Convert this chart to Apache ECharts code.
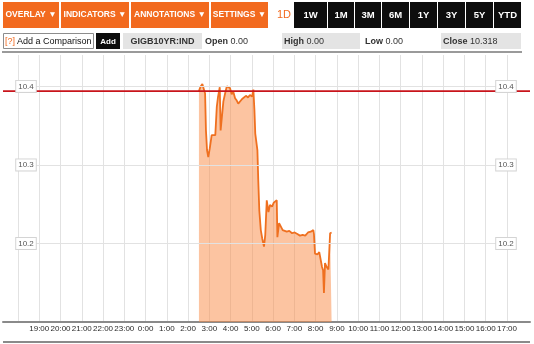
<!DOCTYPE html>
<html>
<head>
<meta charset="utf-8">
<script src="https://cdn.jsdelivr.net/npm/echarts@6/dist/echarts.min.js"></script>
<style>html,body{margin:0;padding:0;background:#fff}#c{width:534px;height:344px}</style>
</head>
<body>
<div id="c"></div>
<script>
// ---- data (hours since 18:00 of the previous day, yield %) ----
const hours = [8.51,8.59,8.67,8.75,8.80,8.84,8.89,8.95,9.02,9.11,9.19,9.28,9.35,9.41,9.49,9.53,9.61,9.66,9.74,9.82,
  9.89,9.97,10.05,10.13,10.21,10.29,10.36,10.44,10.54,10.63,10.72,10.82,10.91,11.01,11.07,11.12,11.16,11.26,11.30,11.35,
  11.42,11.49,11.57,11.63,11.70,11.78,11.85,11.95,12.03,12.10,12.17,12.20,12.28,12.37,12.45,12.54,12.64,12.76,12.89,13.01,
  13.14,13.26,13.39,13.51,13.64,13.77,13.89,13.92,13.97,14.08,14.17,14.24,14.30,14.35,14.39,14.44,14.52,14.60,14.68,14.75];
const yields = [10.394,10.400,10.403,10.402,10.391,10.344,10.319,10.310,10.321,10.338,10.340,10.338,10.374,10.387,10.399,10.344,10.344,10.381,10.391,10.400,
  10.401,10.398,10.390,10.393,10.385,10.382,10.378,10.380,10.384,10.386,10.388,10.386,10.389,10.387,10.396,10.370,10.340,10.319,10.281,10.242,
  10.217,10.206,10.196,10.211,10.255,10.240,10.249,10.247,10.252,10.250,10.255,10.208,10.226,10.225,10.217,10.218,10.215,10.216,10.213,10.214,
  10.212,10.210,10.211,10.210,10.214,10.215,10.217,10.212,10.187,10.186,10.189,10.187,10.170,10.166,10.137,10.175,10.170,10.167,10.213,10.214];
const xLabels = ['18:00','19:00','20:00','21:00','22:00','23:00','0:00','1:00','2:00','3:00','4:00','5:00','6:00',
  '7:00','8:00','9:00','10:00','11:00','12:00','13:00','14:00','15:00','16:00','17:00'];
const yTicks = [10.2, 10.3, 10.4];
const refLevel = 10.394;
const refSpan = [0, 1];
const tabsLeft = ['OVERLAY \u25BC','INDICATORS \u25BC','ANNOTATIONS \u25BC','SETTINGS \u25BC'];
const tabsRange = ['1W','1M','3M','6M','1Y','3Y','5Y','YTD'];

const FONT = '"Liberation Sans", Arial, sans-serif';
const chart = echarts.init(document.getElementById('c'), null, {renderer: 'canvas'});

const yLabelFmt = v => {
  const hit = yTicks.find(t => Math.abs(t - v) < 1e-6);
  return hit !== undefined ? hit.toFixed(1) : '';
};
const yLabelStyle = {
  fontFamily: FONT, fontSize: 8, color: '#555', backgroundColor: '#fff',
  borderColor: '#d4d4d4', borderWidth: 1, padding: [2, 2, 1, 2], align: 'center',
  showMinLabel: false, showMaxLabel: false
};

// ---- toolbar graphics ----
const g = [];
const orangeBoxes = [[3,56],[61,68],[131,78],[211,57]];
tabsLeft.forEach((t, i) => {
  const [x, w] = orangeBoxes[i];
  g.push({type:'rect', shape:{x:x, y:2, width:w, height:26}, style:{fill:'#f26a1f'}});
  g.push({type:'text', x:x + w/2, y:15, style:{text:t, fill:'#fff', font:'bold 8.5px ' + FONT, align:'center', verticalAlign:'middle'}});
});
g.push({type:'text', x:284, y:15, style:{text:'1D', fill:'#f26a1f', font:'11px ' + FONT, align:'center', verticalAlign:'middle'}});
const blackBoxes = [[294,33],[328,26],[355,26],[382,27],[410,27],[438,27],[466,27],[494,27]];
tabsRange.forEach((t, i) => {
  const [x, w] = blackBoxes[i];
  g.push({type:'rect', shape:{x:x, y:2, width:w, height:26}, style:{fill:'#0d0d0d'}});
  g.push({type:'text', x:x + w/2, y:15, style:{text:t, fill:'#fff', font:'bold 9.5px ' + FONT, align:'center', verticalAlign:'middle'}});
});
// row 2
g.push({type:'rect', shape:{x:3.5, y:33.5, width:90, height:15}, style:{fill:'#fff', stroke:'#8c8c8c', lineWidth:1}});
g.push({type:'text', x:5, y:41.5, style:{text:'[?]', fill:'#f26a1f', font:'9px ' + FONT, verticalAlign:'middle'}});
g.push({type:'text', x:17, y:41.5, style:{text:'Add a Comparison', fill:'#111', font:'9px ' + FONT, verticalAlign:'middle'}});
g.push({type:'rect', shape:{x:96, y:33, width:24, height:16}, style:{fill:'#0d0d0d'}});
g.push({type:'text', x:108, y:41.5, style:{text:'Add', fill:'#fff', font:'bold 8px ' + FONT, align:'center', verticalAlign:'middle'}});
g.push({type:'rect', shape:{x:123, y:33, width:79, height:16}, style:{fill:'#e4e4e4'}});
g.push({type:'text', x:162.5, y:41.5, style:{text:'GIGB10YR:IND', fill:'#333', font:'bold 9px ' + FONT, align:'center', verticalAlign:'middle'}});
g.push({type:'rect', shape:{x:282, y:33, width:78, height:16}, style:{fill:'#e4e4e4'}});
g.push({type:'rect', shape:{x:441, y:33, width:80, height:16}, style:{fill:'#e4e4e4'}});
const stats = [[205,'Open','0.00'],[284,'High','0.00'],[365,'Low','0.00'],[443,'Close','10.318']];
stats.forEach(([x, k, v]) => {
  g.push({type:'text', x:x, y:41.5, style:{text:'{b|' + k + '} ' + v, fill:'#333', font:'9px ' + FONT, verticalAlign:'middle',
    rich:{b:{fontWeight:'bold', fontSize:9, fontFamily:FONT, fill:'#333'}}}});
});
g.push({type:'rect', shape:{x:2, y:51, width:520, height:2}, style:{fill:'#9a9a9a'}});
g.push({type:'rect', shape:{x:3, y:341, width:527, height:2}, style:{fill:'#8a8a8a'}});

const option = {
  animation: false,
  backgroundColor: '#fff',
  textStyle: {fontFamily: FONT},
  graphic: g,
  grid: [
    {left: 18, right: 27, top: 55, bottom: 22},
    {left: 3, right: 4, top: 55, bottom: 22}
  ],
  xAxis: [
    {gridIndex: 0, type: 'value', min: 0, max: xLabels.length - 1, interval: 1,
      axisLine: {show: false}, axisTick: {show: false},
      splitLine: {show: true, lineStyle: {color: '#e2e2e2', width: 1}},
      axisLabel: {fontFamily: FONT, fontSize: 8, color: '#2a2a2a', margin: 3,
        formatter: v => v === 0 ? '' : (xLabels[v] || '')}},
    {gridIndex: 1, type: 'value', min: refSpan[0], max: refSpan[1],
      axisLine: {show: true, lineStyle: {color: '#8a8a8a', width: 2}},
      axisTick: {show: false}, axisLabel: {show: false}, splitLine: {show: false}}
  ],
  yAxis: [
    {gridIndex: 0, type: 'value', position: 'left', min: 10.1, max: 10.44, interval: 0.1, z: 10,
      axisLine: {show: false}, axisTick: {show: false},
      splitLine: {show: true, showMinLine: false, showMaxLine: false, lineStyle: {color: '#e2e2e2', width: 1}},
      axisLabel: Object.assign({margin: -8, formatter: yLabelFmt}, yLabelStyle)},
    {gridIndex: 0, type: 'value', position: 'right', min: 10.1, max: 10.44, interval: 0.1, z: 10,
      axisLine: {show: false}, axisTick: {show: false}, splitLine: {show: false},
      axisLabel: Object.assign({margin: -1, formatter: yLabelFmt}, yLabelStyle)},
    {gridIndex: 1, type: 'value', min: 10.1, max: 10.44, show: false}
  ],
  series: [
    {type: 'line', xAxisIndex: 0, yAxisIndex: 0, z: 3,
      data: hours.map((h, i) => [h, yields[i]]),
      symbol: 'none', smooth: false,
      lineStyle: {color: '#ef7020', width: 1.8},
      areaStyle: {color: '#fa8a44', opacity: 0.5, origin: 'start'}},
    {type: 'line', xAxisIndex: 1, yAxisIndex: 2, z: 4,
      data: refSpan.map(x => [x, refLevel]),
      symbol: 'none', lineStyle: {color: '#c8141b', width: 1.6}}
  ]
};
chart.setOption(option);
</script>
</body>
</html>
